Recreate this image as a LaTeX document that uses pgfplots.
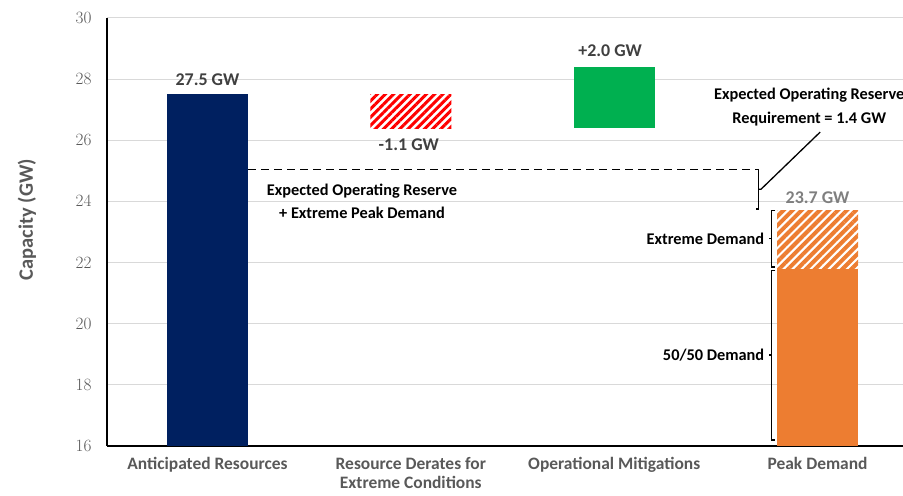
\documentclass[border=0pt]{standalone}
\usepackage{pgfplots}
\pgfplotsset{compat=1.18}
\usepackage{fontspec}
\setmainfont{Carlito}
\usetikzlibrary{patterns.meta}
\definecolor{navy}{HTML}{002060}
\definecolor{exred}{HTML}{FF0000}
\definecolor{exgreen}{HTML}{00B050}
\definecolor{exorange}{HTML}{ED7D31}
\definecolor{tickgray}{HTML}{595959}
\definecolor{gridgray}{HTML}{D9D9D9}
\definecolor{lblgray}{HTML}{404040}
\definecolor{lightlbl}{HTML}{7F7F7F}
\begin{document}
\begin{tikzpicture}
\useasboundingbox (-107bp,-50bp) rectangle (796bp,446bp);
\begin{axis}[
  at={(0,0)}, anchor=south west,
  scale only axis, width=796bp, height=428bp,
  ybar stacked, bar width=81bp,
  xmin=-0.494, xmax=3.42, ymin=16, ymax=30,
  ytick={16,18,...,30},
  xtick={0,1,2,3},
  xticklabels={Anticipated Resources, {Resource Derates for\\Extreme Conditions}, Operational Mitigations, Peak Demand},
  axis x line*=bottom, axis y line*=left,
  x axis line style={-, black, line width=2.8bp},
  y axis line style={-, black, line width=2bp},
  major tick length=0pt,
  ymajorgrids, grid style={gridgray, line width=1bp},
  yticklabel style={font=\fontsize{17.5}{20}\selectfont, text=tickgray, xshift=-12bp},
  xticklabel style={font=\bfseries\fontsize{17.5}{19}\selectfont, text=tickgray, align=center, yshift=-10bp, inner sep=1bp},
  ylabel={Capacity (GW)},
  ylabel style={font=\bfseries\fontsize{20.5}{24}\selectfont, text=tickgray, at={(rel axis cs:-0.1005,0.529)}, anchor=center},
  clip mode=individual,
]
\addplot[draw=none, fill=none] coordinates {(0,0) (1,26.4) (2,26.4) (3,0)};
\addplot[draw=none, fill=navy] coordinates {(0,27.5) (1,0) (2,0) (3,0)};
\addplot[draw=none, fill=white, postaction={pattern={Lines[angle=45,distance=5.8bp,line width=3bp]}, pattern color=exred}] coordinates {(0,0) (1,1.1) (2,0) (3,0)};
\addplot[draw=none, fill=exgreen] coordinates {(0,0) (1,0) (2,2.0) (3,0)};
\addplot[draw=none, fill=exorange] coordinates {(0,0) (1,0) (2,0) (3,21.8)};
\addplot[draw=none, fill=white, postaction={pattern={Lines[angle=45,distance=6.4bp,line width=4bp]}, pattern color=exorange}] coordinates {(0,0) (1,0) (2,0) (3,1.9)};

% value labels
\node[font=\bfseries\fontsize{18}{21}\selectfont, text=lblgray] at (axis cs:0,27.97) {27.5 GW};
\node[font=\bfseries\fontsize{18}{21}\selectfont, text=lblgray] at (axis cs:0.99,25.85) {-1.1 GW};
\node[font=\bfseries\fontsize{18}{21}\selectfont, text=lblgray] at (axis cs:1.98,28.92) {+2.0 GW};
\node[font=\bfseries\fontsize{18}{21}\selectfont, text=lightlbl] at (axis cs:3,24.11) {23.7 GW};
\node[font=\bfseries\fontsize{18}{21}\selectfont, text=black] at (axis cs:3,18.98) {21.8 GW};

% dashed reserve line and bracket
\draw[black, line width=1.5bp, dash pattern=on 8bp off 5bp] (axis cs:0.2,25.05) -- (axis cs:2.698,25.05);
\draw[black, line width=1.3bp] (axis cs:2.698,25.05) -- (axis cs:2.711,25.05) -- (axis cs:2.711,23.75) -- (axis cs:2.698,23.75);
\draw[black, line width=1.3bp] (axis cs:2.711,24.4) -- (axis cs:2.722,24.4) -- (axis cs:3.013,26.27);

% left brackets for peak demand
\draw[black, line width=1.3bp] (axis cs:2.792,23.7) -- (axis cs:2.775,23.7) -- (axis cs:2.775,21.85) -- (axis cs:2.792,21.85);
\draw[black, line width=1.3bp] (axis cs:2.775,22.78) -- (axis cs:2.760,22.78);
\draw[black, line width=1.3bp] (axis cs:2.792,21.75) -- (axis cs:2.775,21.75) -- (axis cs:2.775,16.2) -- (axis cs:2.792,16.2);
\draw[black, line width=1.3bp] (axis cs:2.775,18.98) -- (axis cs:2.760,18.98);

% annotation texts
\node[font=\bfseries\fontsize{16.4}{19}\selectfont, anchor=east] at (axis cs:2.755,22.78) {Extreme Demand};
\node[font=\bfseries\fontsize{16.4}{19}\selectfont, anchor=east] at (axis cs:2.755,18.98) {50/50 Demand};
\node[font=\bfseries\fontsize{16.4}{19}\selectfont] at (axis cs:0.76,24.34) {Expected Operating Reserve};
\node[font=\bfseries\fontsize{16.4}{19}\selectfont] at (axis cs:0.76,23.62) {+ Extreme Peak Demand};
\node[font=\bfseries\fontsize{16.4}{19}\selectfont] at (axis cs:2.959,27.48) {Expected Operating Reserve};
\node[font=\bfseries\fontsize{16.4}{19}\selectfont] at (axis cs:2.959,26.70) {Requirement = 1.4 GW};
\end{axis}
\end{tikzpicture}
\end{document}
